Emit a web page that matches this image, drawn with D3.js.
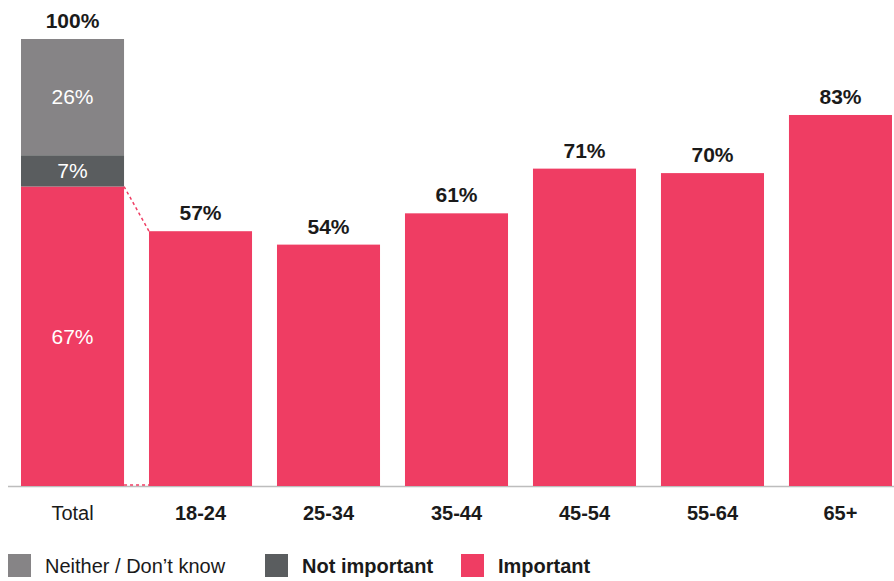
<!DOCTYPE html>
<html>
<head>
<meta charset="utf-8">
<script src="https://cdn.jsdelivr.net/npm/d3@7"></script>
<style>
  body { margin: 0; background: #fff; }
  svg text { font-family: "Helvetica Neue", "Liberation Sans", Arial, sans-serif; }
</style>
</head>
<body>
<div id="chart"></div>
<script>
// Data
const categories = ["Total", "18-24", "25-34", "35-44", "45-54", "55-64", "65+"];
const important = [67, 57, 54, 61, 71, 70, 83];
const notImportant = [7];   // Total only
const neither = [26];       // Total only
const legendLabels = ["Neither / Don\u2019t know", "Not important", "Important"];

const colors = { neither: "#868486", not: "#5a5d5f", imp: "#ef3d63" };

// Dimensions
const width = 894, height = 581;
const margins = { top: 39, bottom: 95, left: 21, right: 2 };
const innerW = width - margins.left - margins.right;
const innerH = height - margins.top - margins.bottom;

const svg = d3.select("#chart").append("svg")
  .attr("width", width).attr("height", height);
const g = svg.append("g")
  .attr("transform", "translate(" + margins.left + "," + margins.top + ")");

const x = d3.scaleBand().domain(categories).range([0, innerW]).paddingInner(0.195).paddingOuter(0);
const y = d3.scaleLinear().domain([0, 100]).range([innerH, 0]);

// stacked series
const rows = categories.map((c, i) => ({
  cat: c,
  imp: important[i],
  not: i === 0 ? notImportant[0] : 0,
  nei: i === 0 ? neither[0] : 0
}));
const stack = d3.stack().keys(["imp", "not", "nei"])(rows);
const fill = { imp: colors.imp, not: colors.not, nei: colors.neither };

// axis line
g.append("line")
  .attr("x1", -13).attr("x2", innerW + 2)
  .attr("y1", y(0) + 0.5).attr("y2", y(0) + 0.5)
  .attr("stroke", "#bdbdbd").attr("stroke-width", 1.5);

stack.forEach(s => {
  g.selectAll(null).data(s.filter(d => d[1] > d[0])).enter().append("rect")
    .attr("x", d => x(d.data.cat))
    .attr("y", d => y(d[1]))
    .attr("width", x.bandwidth())
    .attr("height", d => y(d[0]) - y(d[1]))
    .attr("fill", fill[s.key]);
});

// inside labels on Total bar
stack.forEach(s => {
  const d = s[0];
  g.append("text")
    .attr("x", x(categories[0]) + x.bandwidth() / 2)
    .attr("y", (y(d[0]) + y(d[1])) / 2)
    .attr("dy", "0.35em")
    .attr("text-anchor", "middle")
    .attr("fill", "#fff")
    .style("font-size", "21px")
    .text((d[1] - d[0]) + "%");
});

// dotted connector
const x0 = x(categories[0]) + x.bandwidth(), x1 = x(categories[1]);
g.append("path")
  .attr("d", "M" + x0 + "," + y(important[0]) + "L" + x1 + "," + y(important[1]))
  .attr("stroke", colors.imp).attr("stroke-width", 1.5)
  .attr("stroke-dasharray", "3,3").attr("fill", "none");
g.append("path")
  .attr("d", "M" + x0 + "," + (y(0) - 1) + "L" + x1 + "," + (y(0) - 1))
  .attr("stroke", colors.imp).attr("stroke-width", 1.5)
  .attr("stroke-dasharray", "3,3").attr("fill", "none");

// top value labels
g.selectAll(".val").data(rows).enter().append("text")
  .attr("class", "val")
  .attr("x", d => x(d.cat) + x.bandwidth() / 2)
  .attr("y", d => y(d.imp + d.not + d.nei) - 11)
  .attr("text-anchor", "middle")
  .attr("fill", "#1a1a1a")
  .style("font-size", "21px")
  .style("font-weight", "bold")
  .text(d => (d.imp + d.not + d.nei) + "%");

// category labels
g.selectAll(".cat").data(categories).enter().append("text")
  .attr("class", "cat")
  .attr("x", d => x(d) + x.bandwidth() / 2)
  .attr("y", innerH + 34)
  .attr("text-anchor", "middle")
  .attr("fill", "#1a1a1a")
  .style("font-size", "20px")
  .style("font-weight", (d, i) => i === 0 ? "normal" : "bold")
  .text(d => d);

// legend
const legendX = [8, 265, 461];
const legendColors = [colors.neither, colors.not, colors.imp];
const legend = svg.selectAll(".leg").data(legendLabels).enter().append("g")
  .attr("transform", (d, i) => "translate(" + legendX[i] + ",554)");
legend.append("rect").attr("width", 23).attr("height", 23)
  .attr("fill", (d, i) => legendColors[i]);
legend.append("text")
  .attr("x", 37).attr("y", 12).attr("dy", "0.35em")
  .attr("fill", "#1a1a1a")
  .style("font-size", "20px")
  .style("font-weight", (d, i) => i === 0 ? "normal" : "bold")
  .text(d => d);
</script>
</body>
</html>
